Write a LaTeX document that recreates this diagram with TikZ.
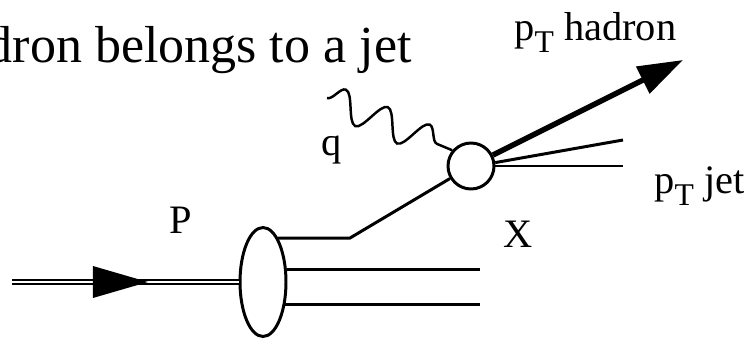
\documentclass[tikz,border=0pt]{standalone}
\usepackage{fontspec}
\setmainfont{Liberation Serif}
\usetikzlibrary{shapes.geometric,arrows.meta,decorations.pathmorphing,decorations.markings}
\newcommand{\pTsub}{p\raisebox{-0.3em}{\fontsize{18}{18}\selectfont T}}

\begin{document}
\begin{tikzpicture}[
        x=0.02cm, y=-0.02cm,
        line width=1.7pt,
        txt/.style={
            inner sep=0pt,
            anchor=base west,
            font=\fontsize{23}{26}\selectfont
        },
        proton/.style={
            ellipse,
            draw,
            fill=white,
            minimum width=0.92cm,
            minimum height=2.18cm,
            inner sep=0pt
        },
        blob/.style={
            circle,
            draw,
            fill=white,
            minimum size=0.92cm,
            inner sep=0pt
        },
        beam/.style={
            double,
            double distance=1.4pt,
            line width=0.9pt,
            postaction={decorate},
            decoration={markings, mark=at position 0.6 with
                {\fill (0,0) -- (-1.1cm,0.32cm) -- (-1.1cm,-0.32cm) -- cycle;}}
        },
        photon/.style={
            decorate,
            decoration={snake, amplitude=0.3cm, segment length=0.908cm},
            line width=1.4pt
        },
        hadron/.style={
            line width=3.1pt,
            -{Triangle[length=0.9cm, width=0.58cm]}
        }
    ]
    \useasboundingbox (0,0) rectangle (750,338);

    \node[proton] (prot) at (263,282) {};
    \node[blob] (vtx) at (471,166) {};

    \coordinate (beamin) at (12,282);
    \coordinate (kink) at (350,0);
    \coordinate (remend) at (480,0);
    \coordinate (gam) at (327,98);
    \coordinate (hadtip) at (683,60);
    \coordinate (jet1) at (623,140);
    \coordinate (jet2) at (623,166);

    % incoming proton
    \draw[beam] (beamin) -- (prot.west);

    % struck quark and remnants
    \draw (prot.71) -- (prot.71 -| kink) -- (vtx);
    \draw (prot.28) -- (prot.28 -| remend);
    \draw (prot.-45) -- (prot.-45 -| remend);

    % photon
    \draw[photon] (gam) -- (vtx.140);

    % outgoing hadron and jet
    \draw[hadron] (vtx) -- (hadtip);
    \draw (vtx.8) -- (jet1);
    \draw (vtx.east) -- (jet2);

    \node[txt, anchor=base east, font=\fontsize{29.6}{34}\selectfont] (title)
        at (413,62) {dron belongs to a jet};
    \node[txt] (hadlbl) at (513,40) {\pTsub\ hadron};
    \node[txt] (jetlbl) at (653,193) {\pTsub\ jet};
    \node[txt] (qlbl) at (320,155) {q};
    \node[txt] (plbl) at (168,233) {P};
    \node[txt] (xlbl) at (502,247) {X};

\end{tikzpicture}
\end{document}
